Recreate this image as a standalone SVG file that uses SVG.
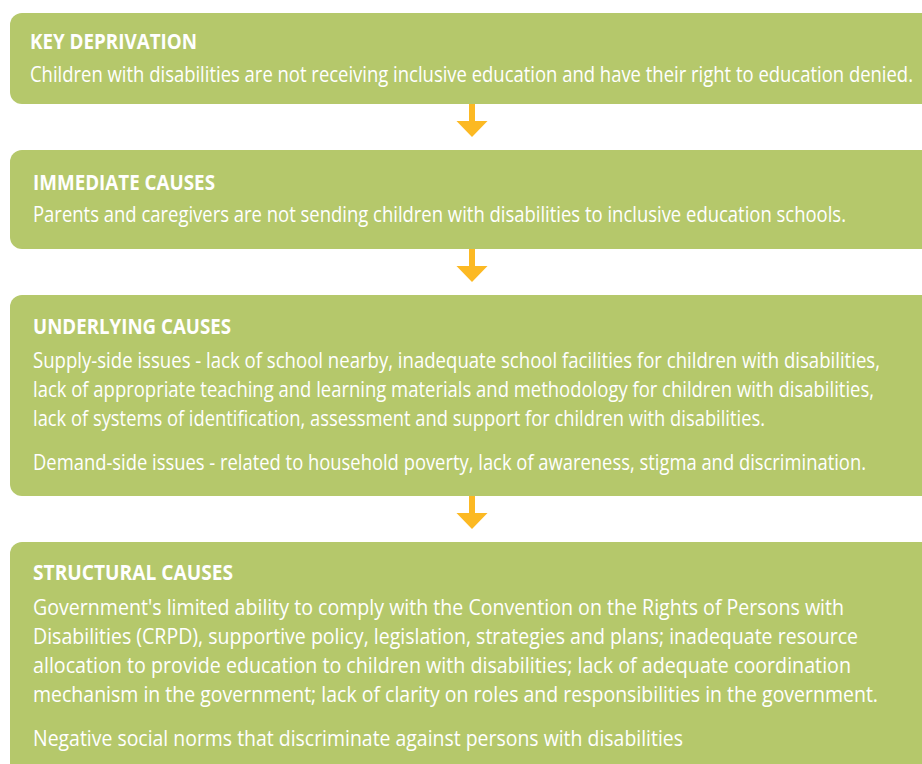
<svg xmlns="http://www.w3.org/2000/svg" xmlns:xlink="http://www.w3.org/1999/xlink" width="922" height="764" viewBox="0 0 922 764">
<style>
.box{fill:#b5c86b}
.t{font-family:"Open Sans","Noto Sans",sans-serif;font-weight:700;font-size:22px;fill:#ffffff}
.b{font-family:"Open Sans","Noto Sans",sans-serif;font-size:21px;fill:#ffffff}
.arr{fill:#fcb923}
</style>
<defs>
<path id="arrow" d="M-3,0 H3 V17 H15.5 L0,33 L-15.5,17 H-3 Z"/>
</defs>
<rect width="922" height="764" fill="#ffffff"/>
<g id="connectors" class="arr">
<use xlink:href="#arrow" href="#arrow" transform="translate(472,104)"/>
<use xlink:href="#arrow" href="#arrow" transform="translate(472,249)"/>
<use xlink:href="#arrow" href="#arrow" transform="translate(472,496)"/>
</g>
<g id="key-deprivation">
<path class="box" d="M22,13 H922 V104 H22 A12,12 0 0 1 10,92 V25 A12,12 0 0 1 22,13 Z"/>
<text class="t" x="30" y="49" textLength="167" lengthAdjust="spacingAndGlyphs">KEY DEPRIVATION</text>
<text class="b" x="30" y="82" textLength="883" lengthAdjust="spacingAndGlyphs">Children with disabilities are not receiving inclusive education and have their right to education denied.</text>
</g>
<g id="immediate-causes">
<path class="box" d="M22,150 H922 V249 H22 A12,12 0 0 1 10,237 V162 A12,12 0 0 1 22,150 Z"/>
<text class="t" x="33" y="190" textLength="182" lengthAdjust="spacingAndGlyphs">IMMEDIATE CAUSES</text>
<text class="b" x="33" y="222" textLength="813" lengthAdjust="spacingAndGlyphs">Parents and caregivers are not sending children with disabilities to inclusive education schools.</text>
</g>
<g id="underlying-causes">
<path class="box" d="M22,295 H922 V496 H22 A12,12 0 0 1 10,484 V307 A12,12 0 0 1 22,295 Z"/>
<text class="t" x="33" y="334" textLength="198" lengthAdjust="spacingAndGlyphs">UNDERLYING CAUSES</text>
<text class="b" x="33" y="368" textLength="847" lengthAdjust="spacingAndGlyphs">Supply-side issues - lack of school nearby, inadequate school facilities for children with disabilities,</text>
<text class="b" x="33" y="397" textLength="841" lengthAdjust="spacingAndGlyphs">lack of appropriate teaching and learning materials and methodology for children with disabilities,</text>
<text class="b" x="33" y="426" textLength="732" lengthAdjust="spacingAndGlyphs">lack of systems of identification, assessment and support for children with disabilities.</text>
<text class="b" x="33" y="470" textLength="833" lengthAdjust="spacingAndGlyphs">Demand-side issues - related to household poverty, lack of awareness, stigma and discrimination.</text>
</g>
<g id="structural-causes">
<path class="box" d="M22,542 H922 V764 H10 V554 A12,12 0 0 1 22,542 Z"/>
<text class="t" x="33" y="580" textLength="200" lengthAdjust="spacingAndGlyphs">STRUCTURAL CAUSES</text>
<text class="b" x="33" y="615" textLength="811" lengthAdjust="spacingAndGlyphs">Government's limited ability to comply with the Convention on the Rights of Persons with</text>
<text class="b" x="33" y="644" textLength="825" lengthAdjust="spacingAndGlyphs">Disabilities (CRPD), supportive policy, legislation, strategies and plans; inadequate resource</text>
<text class="b" x="33" y="673" textLength="818" lengthAdjust="spacingAndGlyphs">allocation to provide education to children with disabilities; lack of adequate coordination</text>
<text class="b" x="33" y="702" textLength="845" lengthAdjust="spacingAndGlyphs">mechanism in the government; lack of clarity on roles and responsibilities in the government.</text>
<text class="b" x="33" y="746" textLength="650" lengthAdjust="spacingAndGlyphs">Negative social norms that discriminate against persons with disabilities</text>
</g>
</svg>
